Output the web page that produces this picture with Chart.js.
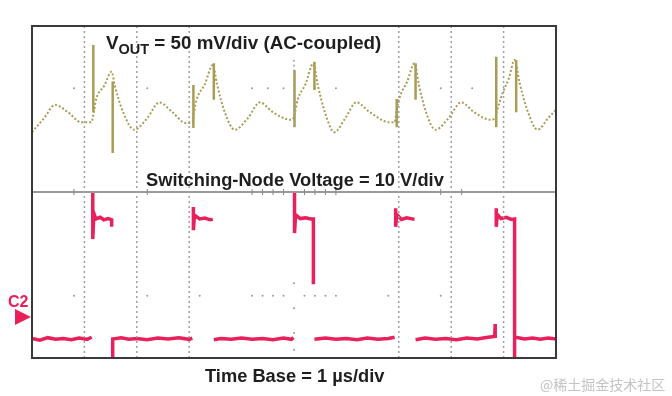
<!DOCTYPE html>
<html>
<head>
<meta charset="utf-8">
<script src="https://cdn.jsdelivr.net/npm/chart.js@4.4.0/dist/chart.umd.min.js"></script>
<style>
    body { margin: 0; background: #fff; }
    #wrap { position: relative; width: 672px; height: 396px; }
    .lbl { position: absolute; font-family: "Liberation Sans", Arial, sans-serif; font-weight: bold; font-size: 18.3px; line-height: 18px; color: #1e1e1e; white-space: nowrap; }
    .lbl sub { font-size: 14.5px; vertical-align: -5px; line-height: 0; }
    #c2 { color: #e8205c; font-size: 16px; line-height: 16px; }
    #tri { position: absolute; left: 15px; top: 309px; width: 0; height: 0; border-top: 8px solid transparent; border-bottom: 8px solid transparent; border-left: 16px solid #e8205c; }
    #wm { position: absolute; left: 540px; top: 374px; font-family: "Noto Sans CJK SC", sans-serif; font-size: 14px; color: #c4c4c4; white-space: nowrap; }
</style>
</head>
<body>
<div id="wrap">
    <canvas id="scope" width="672" height="396"></canvas>
    <div class="lbl" style="left:106px; top:34px; font-size:18.8px;">V<sub>OUT</sub> = 50 mV/div (AC-coupled)</div>
    <div class="lbl" style="left:146px; top:171px;">Switching-Node Voltage = 10 V/div</div>
    <div class="lbl" style="left:205px; top:367px;">Time Base = 1 µs/div</div>
    <div class="lbl" id="c2" style="left:8px; top:294px;">C2</div>
    <div id="tri"></div>
    <div id="wm">@稀土掘金技术社区</div>
</div>
<script>
// time in µs (1 µs/div, 10 div)
// VOUT ripple, mV (AC-coupled, 50 mV/div)
const voutTime = [
    0, 0.23, 0.44, 0.69, 0.94, 1.13,
    1.18, 1.22, 1.38, 1.52, 1.58, 1.74, 1.95, 2.20, 2.43, 2.68, 2.94, 3.06,
    3.10, 3.14, 3.30, 3.45, 3.53, 3.68, 3.87, 4.12, 4.35, 4.60, 4.94, 4.99,
    5.03, 5.07, 5.22, 5.37, 5.45, 5.59, 5.77, 5.98, 6.19, 6.45, 6.82, 6.92,
    6.96, 7.01, 7.16, 7.30, 7.38, 7.52, 7.70, 7.95, 8.19, 8.44, 8.75, 8.84,
    8.88, 8.98, 9.10, 9.21, 9.30, 9.45, 9.65, 9.85, 10
];
const voutMv = [
    -28, -11, 5, -4, -16, -16,
    -4, 11, 28, 45, 28, -4, -25, -11, 8, -4, -17, -16,
    -1, 11, 30, 53, 30, -4, -25, -11, 8, -4, -13, -11,
    -1, 11, 30, 55, 30, -4, -28, -11, 8, -4, -16, -16,
    -1, 13, 33, 55, 30, -4, -25, -11, 8, -4, -13, -11,
    -1, 19, 37, 59, 33, -1, -25, -11, -1
];

// switching spikes on VOUT
const spikeTime = [1.17, 1.54, 3.08, 3.47, 5.01, 5.39, 6.96, 7.32, 8.86, 9.24];
const spikeTop = [77, 33, 29, 55, 47, 57, 12, 55, 63, 59];
const spikeBottom = [-4, -53, -23, 11, -22, 23, -22, 11, -22, -4];

// switching node, V (10 V/div), null = trace gap
const swTime = [
    0, 0.15, 0.3, 0.45, 0.6, 0.75, 0.9, 1.05, 1.14, null,
    1.16, 1.16, 1.18, 1.22, 1.30, 1.37, 1.45, 1.52, 1.52, null,
    1.54, 1.54, 1.7, 1.85, 2.0, 2.2, 2.4, 2.6, 2.8, 3.0, 3.06, null,
    3.08, 3.08, 3.10, 3.2, 3.3, 3.4, 3.45, null,
    3.47, 3.6, 3.8, 4.0, 4.2, 4.4, 4.6, 4.8, 4.95, 4.99, null,
    5.01, 5.01, 5.03, 5.12, 5.22, 5.32, 5.37, 5.37, null,
    5.39, 5.6, 5.8, 6.0, 6.2, 6.4, 6.6, 6.8, 6.92, null,
    6.94, 6.94, 6.96, 7.05, 7.15, 7.30, null,
    7.32, 7.5, 7.7, 7.9, 8.1, 8.3, 8.5, 8.7, 8.83, 8.84, 8.84, null,
    8.86, 8.86, 8.88, 8.95, 9.05, 9.15, 9.21, 9.21, null,
    9.23, 9.4, 9.55, 9.7, 9.85, 10
];
const swVolt = [
    -5.3, -5.7, -5.1, -5.5, -5.3, -5.6, -5.2, -5.5, -5.0, null,
    30, 18.7, 24.9, 23.5, 23.9, 23.3, 23.6, 23.3, 21.6, null,
    -10, -5.4, -5.1, -5.5, -5.3, -5.6, -5.2, -5.4, -5.1, -5.5, -5.2, null,
    26.4, 20.8, 24.4, 23.5, 23.7, 23.3, 23.4, null,
    -5.6, -5.3, -5.5, -5.2, -5.5, -5.3, -5.6, -5.2, -5.5, -5.1, null,
    30, 20.1, 24.5, 23.6, 23.8, 23.5, 23.5, 7.8, null,
    -5.5, -5.2, -5.5, -5.3, -5.6, -5.2, -5.5, -5.3, -5.0, null,
    26.1, 21.6, 24.6, 23.4, 23.8, 23.4, null,
    -5.6, -5.2, -5.5, -5.3, -5.6, -5.2, -5.4, -5.0, -4.8, -1.8, -5.2, null,
    26.1, 21.6, 24.6, 23.6, 23.9, 23.4, 23.5, -10, null,
    -5.0, -5.4, -5.2, -5.5, -5.2, -5.4
];

// graticule (divisions, 0..8 from bottom)
const gridT = [1, 2, 3, 7, 8, 9];
const dotRowTopT = [0.8, 2.2, 4.2, 4.5, 4.8, 5.4, 5.8, 7.8, 8.4];
const dotRowBottomT = [0.8, 2.2, 3.2, 4.2, 4.4, 4.6, 4.8, 5.2, 5.4, 5.6, 5.8, 6.8, 7.8];
const centerTickT = [0.8, 2.2, 4.2, 4.4, 4.6, 4.8, 5.2, 5.4, 5.6, 5.8, 7.8, 8.2];
const centerDotsDiv = [0.2, 0.6, 1.2, 1.8];

const olive = '#a99d55';
const pink = '#e8205c';

const ripplePts = voutTime.map((t, i) => ({ x: t, y: voutMv[i] }));
const spikePts = [];
spikeTime.forEach((t, i) => {
    spikePts.push({ x: t, y: spikeTop[i] }, { x: t, y: spikeBottom[i] }, { x: t, y: null });
});
const swPts = swTime.map((t, i) => ({ x: t === null ? swTime[i - 1] : t, y: swVolt[i] }));
const gridPts = [];
gridT.forEach(t => gridPts.push({ x: t, y: 0 }, { x: t, y: 8 }, { x: t, y: null }));
gridPts.push({ x: 5, y: 5.57 }, { x: 5, y: 7.23 });
const dotPts = dotRowTopT.map(t => ({ x: t, y: 6.5 }))
    .concat(dotRowBottomT.map(t => ({ x: t, y: 1.5 })))
    .concat(centerDotsDiv.map(d => ({ x: 5, y: d })));

const framePlugin = {
    id: 'frame',
    afterDatasetsDraw(chart) {
        const a = chart.chartArea;
        const ctx = chart.ctx;
        ctx.save();
        ctx.strokeStyle = '#3a3a3a';
        ctx.lineWidth = 2;
        ctx.strokeRect(a.left, a.top, a.right - a.left, a.bottom - a.top);
        ctx.restore();
    }
};

const ctx = document.getElementById('scope').getContext('2d');
const scopeChart = new Chart(ctx, {
    type: 'scatter',
    data: {
        datasets: [
            {
                label: 'grid',
                data: gridPts,
                yAxisID: 'yDiv',
                showLine: true,
                borderColor: '#a0a0a0',
                borderWidth: 1.5,
                borderDash: [2, 3],
                pointRadius: 0,
                spanGaps: false
            },
            {
                label: 'dots',
                data: dotPts,
                yAxisID: 'yDiv',
                showLine: false,
                pointRadius: 1,
                pointBackgroundColor: '#999',
                pointBorderWidth: 0
            },
            {
                label: 'ticks',
                data: centerTickT.map(t => ({ x: t, y: 4 })),
                yAxisID: 'yDiv',
                showLine: false,
                pointStyle: 'line',
                rotation: 90,
                pointRadius: 3,
                pointBorderColor: '#888',
                pointBorderWidth: 1
            },
            {
                label: 'separator',
                data: [{ x: 0, y: 4 }, { x: 10, y: 4 }],
                yAxisID: 'yDiv',
                showLine: true,
                borderColor: '#9a9a9a',
                borderWidth: 2,
                pointRadius: 0
            },
            {
                label: 'VOUT',
                data: ripplePts,
                yAxisID: 'yV',
                showLine: true,
                borderColor: olive,
                borderWidth: 2,
                borderDash: [2, 2],
                cubicInterpolationMode: 'monotone',
                pointRadius: 0
            },
            {
                label: 'VOUT spikes',
                data: spikePts,
                yAxisID: 'yV',
                showLine: true,
                borderColor: olive,
                borderWidth: 2.5,
                pointRadius: 0,
                spanGaps: false
            },
            {
                label: 'Switching node',
                data: swPts,
                yAxisID: 'yS',
                showLine: true,
                borderColor: pink,
                borderWidth: 3.5,
                pointRadius: 0,
                spanGaps: false
            }
        ]
    },
    options: {
        responsive: false,
        animation: false,
        devicePixelRatio: 1,
        layout: { padding: { left: 32, top: 26, right: 116, bottom: 38 } },
        plugins: { legend: { display: false }, tooltip: { enabled: false } },
        scales: {
            x: { type: 'linear', min: 0, max: 10, display: false },
            y: { display: false },
            yV: { type: 'linear', min: -300, max: 100, display: false },
            yS: { type: 'linear', min: -10, max: 70, display: false },
            yDiv: { type: 'linear', min: 0, max: 8, display: false }
        }
    },
    plugins: [framePlugin]
});
</script>
</body>
</html>
